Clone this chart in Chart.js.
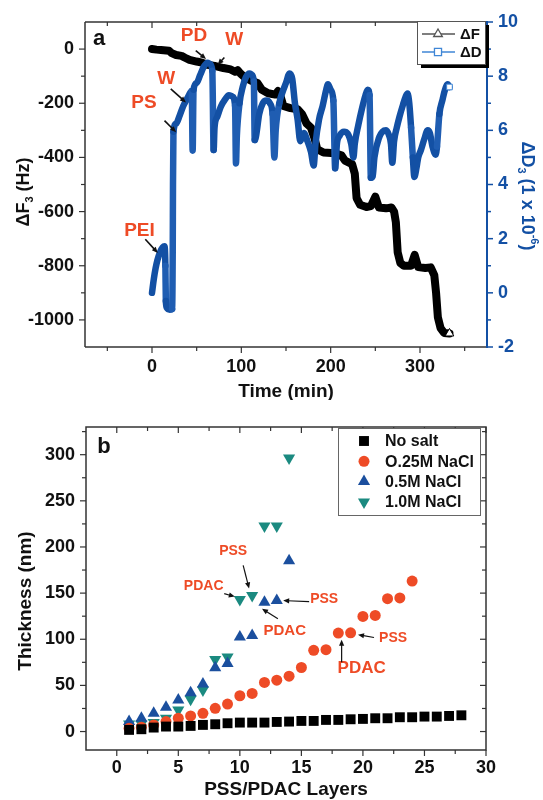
<!DOCTYPE html>
<html>
<head>
<meta charset="utf-8">
<script src="https://cdn.jsdelivr.net/npm/chart.js@4.4.1/dist/chart.umd.min.js"></script>
<style>
html, body { margin: 0; padding: 0; background: #fff; }
#wrap { position: relative; width: 543px; height: 800px; }
canvas { position: absolute; left: 0; }
#qcm { top: 0; }
#thick { top: 400px; }
</style>
</head>
<body>
<div id="wrap">
  <canvas id="qcm" width="543" height="400" style="width:543px;height:400px"></canvas>
  <canvas id="thick" width="543" height="400" style="width:543px;height:400px"></canvas>
</div>
<script>
// ---- panel a: QCM-D trace (time in min) ----
const timeF = [0, 5, 10, 19, 22, 27, 33, 37, 42, 50, 56, 62, 70, 80, 88, 93, 96, 99, 104, 112, 118, 123, 130, 138, 141, 144, 147, 155, 163, 168, 173, 178, 182, 185, 192, 205, 212, 216, 224, 227, 229, 233, 240, 245, 250, 254, 262, 268, 271, 273, 275, 278, 282, 290, 294, 298, 306, 312, 316, 318, 320, 323, 327, 333];
const deltaF = [0, -2, -3, -6, -15, -22, -25, -32, -40, -46, -50, -58, -62, -70, -75, -84, -78, -90, -105, -118, -125, -150, -163, -168, -155, -175, -210, -218, -222, -240, -275, -290, -330, -370, -382, -385, -392, -412, -425, -460, -550, -575, -583, -580, -545, -585, -588, -585, -600, -640, -750, -790, -800, -800, -760, -805, -808, -806, -835, -900, -990, -1030, -1048, -1050];

const timeD = [0, 2, 4, 6, 9, 12, 14, 15, 15.5, 16.5, 20, 22.5, 23.2, 23.5, 24, 27, 31, 35, 39, 43, 44.5, 45.5, 46.5, 50, 54, 58, 62, 65, 67.5, 69, 70, 73, 77, 82, 86, 90, 93, 94, 95, 98, 101.5, 105, 109, 112, 114, 115, 116.5, 120, 124, 128, 132, 135, 137, 138.5, 142.5, 146, 150, 154, 157, 160, 163, 166, 170, 174, 178, 181, 183, 187, 191, 195, 197, 200, 203, 205, 207, 210, 215, 219, 223, 225.5, 227, 231, 235, 239, 241.5, 243.5, 245, 247, 249, 254.5, 258, 262, 265.5, 267.5, 269, 271, 274, 277, 281, 284, 286, 288, 290, 292, 293.7, 296, 298, 301, 305, 308.6, 311, 314, 317.5, 319, 321.7, 325, 328, 331, 333];
const deltaD = [0.0, 0.5, 0.9, 1.2, 1.5, 1.68, 1.72, 1.0, -0.3, -0.55, -0.62, -0.6, 1.5, 4.0, 5.95, 6.25, 6.55, 6.9, 7.15, 7.4, 7.45, 5.25, 7.5, 7.75, 8.05, 8.35, 8.5, 8.45, 8.2, 5.27, 6.1, 6.5, 6.87, 7.15, 7.3, 7.25, 6.9, 4.78, 5.8, 7.0, 7.6, 7.95, 8.1, 8.05, 7.8, 5.64, 5.8, 6.6, 7.0, 7.1, 7.0, 6.6, 5.0, 6.0, 7.0, 7.4, 7.75, 8.1, 7.9, 7.0, 6.4, 5.6, 5.9, 5.6, 5.2, 4.7, 5.5, 6.4, 6.9, 7.5, 7.7, 7.5, 7.1, 4.6, 5.5, 5.8, 5.95, 5.88, 5.5, 5.0, 5.5, 6.2, 6.8, 7.3, 7.5, 7.3, 4.25, 4.3, 5.0, 5.76, 5.95, 6.0, 5.8, 5.5, 4.8, 5.6, 6.1, 6.5, 6.95, 7.25, 7.36, 7.0, 6.1, 5.0, 4.28, 4.6, 5.0, 5.27, 5.7, 6.0, 5.9, 5.4, 5.1, 5.4, 6.6, 7.1, 7.5, 7.7, 7.6];

const timeTicks = [0, 100, 200, 300];
const timeMinor = [-50, 50, 150, 250, 350];
const freqTicks = [-1000, -800, -600, -400, -200, 0];
const freqMinor = [-900, -700, -500, -300, -100];
const dissTicks = [-2, 0, 2, 4, 6, 8, 10];
const dissMinor = [-1, 1, 3, 5, 7, 9];

// ---- panel b: film thickness vs layer number ----
const layers = [1, 2, 3, 4, 5, 6, 7, 8, 9, 10, 11, 12, 13, 14, 15, 16, 17, 18, 19, 20, 21, 22, 23, 24, 25, 26, 27, 28];
const noSalt = [1.8, 2.5, 4.3, 5.4, 5.4, 6.1, 7.2, 7.9, 9.0, 9.7, 9.7, 9.7, 10.4, 10.8, 11.5, 11.5, 12.6, 12.6, 13.3, 13.7, 14.4, 14.4, 15.5, 15.5, 16.2, 16.2, 16.9, 17.6];
const nacl025 = [3.5, 4.7, 7.2, 10.8, 14.4, 16.9, 19.8, 25.2, 29.8, 38.8, 41.3, 53.2, 55.7, 60.0, 69.4, 88.0, 88.7, 106.7, 107.0, 124.7, 125.8, 144.0, 144.8, 163.1];
const nacl05 = [10.8, 14.4, 19.8, 26.2, 34.1, 42.0, 51.4, 69.0, 73.7, 102.4, 104.2, 140.1, 141.9, 185.0];
const nacl10 = [8.3, 8.3, 9.7, 14.4, 23.4, 34.9, 44.9, 78.0, 80.8, 143.0, 147.3, 222.8, 222.8, 296.4];

const layerTicks = [0, 5, 10, 15, 20, 25, 30];
const layerMinor = [2.5, 7.5, 12.5, 17.5, 22.5, 27.5];
const thickTicks = [0, 50, 100, 150, 200, 250, 300];
const thickMinor = [25, 75, 125, 175, 225, 275, 325];

// annotations (data units of each panel)
const notesA = [
    { text: 'PD', x: 47, y: 49 }, { text: 'W', x: 92, y: 34 }, { text: 'W', x: 16, y: -109 },
    { text: 'PS', x: -9, y: -198 }, { text: 'PEI', x: -14, y: -669 },
];
const arrowsA = [[49, -6, 60.5, -37], [81, -31, 73.5, -58], [21, -147, 38, -197], [14, -264, 27, -307], [-7.5, -702, 6.5, -753]];
const notesB = [
    { text: 'PSS', x: 9.46, y: 196, size: 14 }, { text: 'PDAC', x: 7.06, y: 158, size: 14 },
    { text: 'PSS', x: 16.85, y: 144, size: 14 }, { text: 'PDAC', x: 13.65, y: 109, size: 15 },
    { text: 'PSS', x: 22.45, y: 101, size: 14 }, { text: 'PDAC', x: 19.9, y: 68, size: 17 },
];
const arrowsB = [[10.27, 180, 10.75, 155], [8.73, 149.4, 9.59, 146.2], [15.63, 140.8, 13.52, 141.9], [13.09, 122.3, 11.8, 133], [20.9, 101.9, 19.6, 105], [18.27, 75, 18.27, 99.6]];

const FONT = '"Liberation Sans", Arial, Helvetica, sans-serif';
const RED = '#ee4b26';
const BLUE_D = '#1350a4';
const BLUE_M = '#1f5db2';
const BLUE_L = '#3f86d6';
const AXIS = '#333';

const pts = (xs, ys) => xs.slice(0, ys.length).map((x, i) => ({ x, y: ys[i] }));
const font = (size) => ({ family: FONT, size, weight: 'bold' });

function line(ctx, x1, y1, x2, y2) {
    ctx.beginPath(); ctx.moveTo(x1, y1); ctx.lineTo(x2, y2); ctx.stroke();
}

function arrow(ctx, x1, y1, x2, y2) {
    const a = Math.atan2(y2 - y1, x2 - x1), h = 6, w = 2.6;
    line(ctx, x1, y1, x2 - Math.cos(a) * h * 0.7, y2 - Math.sin(a) * h * 0.7);
    ctx.beginPath();
    ctx.moveTo(x2, y2);
    ctx.lineTo(x2 - h * Math.cos(a) + w * Math.sin(a), y2 - h * Math.sin(a) - w * Math.cos(a));
    ctx.lineTo(x2 - h * Math.cos(a) - w * Math.sin(a), y2 - h * Math.sin(a) + w * Math.cos(a));
    ctx.closePath(); ctx.fill();
}

// text with sub/superscripts, centred on (cx, cy), optionally rotated
function richText(ctx, parts, cx, cy, rot, color) {
    ctx.save();
    ctx.translate(cx, cy); ctx.rotate(rot);
    ctx.fillStyle = color; ctx.textBaseline = 'middle'; ctx.textAlign = 'left';
    let total = 0;
    parts.forEach((p) => { ctx.font = `bold ${p.size}px ${FONT}`; p.w = ctx.measureText(p.text).width; total += p.w; });
    let x = -total / 2;
    parts.forEach((p) => { ctx.font = `bold ${p.size}px ${FONT}`; ctx.fillText(p.text, x, p.dy || 0); x += p.w; });
    ctx.restore();
}

function ticks(ctx, chart, id, side, values, len) {
    const a = chart.chartArea, s = chart.scales[id];
    values.forEach((v) => {
        const p = s.getPixelForValue(v);
        if (side === 'left') line(ctx, a.left, p, a.left - len, p);
        if (side === 'right') line(ctx, a.right, p, a.right + len, p);
        if (side === 'bottom') line(ctx, p, a.bottom, p, a.bottom + len);
        if (side === 'top') line(ctx, p, a.top, p, a.top - len);
    });
}

function text(ctx, str, x, y, size, color, align) {
    ctx.font = `bold ${size}px ${FONT}`;
    ctx.fillStyle = color; ctx.textAlign = align || 'center'; ctx.textBaseline = 'middle';
    ctx.fillText(str, x, y);
}

const fixTicks = (list) => (s) => { s.ticks = list.map((v) => ({ value: v })); };

// rinse / injection spikes are drawn a bit lighter, like the open markers in the original
const steep = (c) => {
    const dx = Math.abs(c.p1.x - c.p0.x), dy = Math.abs(c.p1.y - c.p0.y);
    return dy > 25 && dy > dx * 5 ? BLUE_M : undefined;
};

const frameA = {
    id: 'frameA',
    afterDraw(chart) {
        const { ctx, chartArea: a, scales } = chart;
        ctx.save();
        ctx.lineWidth = 1.5; ctx.strokeStyle = AXIS;
        line(ctx, a.left, a.top, a.left, a.bottom);
        line(ctx, a.left, a.top, a.right, a.top);
        line(ctx, a.left, a.bottom, a.right + 1, a.bottom);
        ctx.lineWidth = 1.2;
        ticks(ctx, chart, 'x', 'bottom', timeTicks, 6); ticks(ctx, chart, 'x', 'bottom', timeMinor, 4);
        ticks(ctx, chart, 'x', 'top', timeTicks, -6); ticks(ctx, chart, 'x', 'top', timeMinor, -4);
        ticks(ctx, chart, 'yF', 'left', freqTicks, 6); ticks(ctx, chart, 'yF', 'left', freqMinor, 4);
        ctx.strokeStyle = BLUE_D; ctx.lineWidth = 2;
        line(ctx, a.right, a.top - 1, a.right, a.bottom + 1);
        ctx.lineWidth = 1.5;
        ticks(ctx, chart, 'yD', 'right', dissTicks, 6); ticks(ctx, chart, 'yD', 'right', dissMinor, 4);

        // axis titles
        richText(ctx, [{ text: 'Time (min)', size: 19 }], (a.left + a.right) / 2, a.bottom + 45, 0, '#111');
        richText(ctx, [{ text: '\u0394F', size: 18 }, { text: '3', size: 11, dy: 6 }, { text: ' (Hz)', size: 18 }], 24, a.top + 170, -Math.PI / 2, '#111');
        richText(ctx, [{ text: '\u0394D', size: 18 }, { text: '3', size: 11, dy: 6 }, { text: ' (1 x 10', size: 18 }, { text: '-6', size: 11, dy: -7 }, { text: ')', size: 18 }], 527, a.top + 174, Math.PI / 2, BLUE_D);

        text(ctx, 'a', a.left + 14, a.top + 17, 22, '#111');

        // annotations
        notesA.forEach((n) => text(ctx, n.text, scales.x.getPixelForValue(n.x), scales.yF.getPixelForValue(n.y), 19, RED));
        ctx.fillStyle = '#111'; ctx.strokeStyle = '#111'; ctx.lineWidth = 1.6;
        arrowsA.forEach(([x1, y1, x2, y2]) => arrow(ctx,
            scales.x.getPixelForValue(x1), scales.yF.getPixelForValue(y1),
            scales.x.getPixelForValue(x2), scales.yF.getPixelForValue(y2)));

        // legend with drop shadow
        const bx = a.right - 70, by = a.top - 1, bw = 68, bh = 43;
        ctx.fillStyle = '#000'; ctx.fillRect(bx + 4, by + 4, bw, bh);
        ctx.fillStyle = '#fff'; ctx.fillRect(bx, by, bw, bh);
        ctx.strokeStyle = '#555'; ctx.lineWidth = 1; ctx.strokeRect(bx + 0.5, by + 0.5, bw, bh);
        const rows = [{ label: '\u0394F', color: '#555', style: 'triangle', y: by + 13 }, { label: '\u0394D', color: BLUE_L, style: 'rect', y: by + 31 }];
        rows.forEach((r) => {
            ctx.strokeStyle = r.color; ctx.lineWidth = 1.3;
            line(ctx, bx + 5, r.y, bx + 38, r.y);
            ctx.fillStyle = '#fff';
            Chart.helpers.drawPoint(ctx, { pointStyle: r.style, radius: 5, borderWidth: 1.2, rotation: 0 }, bx + 21, r.y);
            text(ctx, r.label, bx + 43, r.y + 1, 15, '#111', 'left');
        });
        ctx.restore();
    },
};

const frameB = {
    id: 'frameB',
    afterDraw(chart) {
        const { ctx, chartArea: a, scales } = chart;
        ctx.save();
        ctx.lineWidth = 1.5; ctx.strokeStyle = AXIS;
        ctx.strokeRect(a.left, a.top, a.right - a.left, a.bottom - a.top);
        ctx.lineWidth = 1.2;
        ticks(ctx, chart, 'x', 'bottom', layerTicks, 6); ticks(ctx, chart, 'x', 'bottom', layerMinor, 4);
        ticks(ctx, chart, 'x', 'top', layerTicks, -6); ticks(ctx, chart, 'x', 'top', layerMinor, -4);
        ticks(ctx, chart, 'y', 'left', thickTicks, 6); ticks(ctx, chart, 'y', 'left', thickMinor, 4);
        ticks(ctx, chart, 'y', 'right', thickTicks, -6); ticks(ctx, chart, 'y', 'right', thickMinor, -4);

        richText(ctx, [{ text: 'PSS/PDAC Layers', size: 19 }], (a.left + a.right) / 2, a.bottom + 40, 0, '#111');
        richText(ctx, [{ text: 'Thickness (nm)', size: 19 }], 26, a.top + 174, -Math.PI / 2, '#111');
        text(ctx, 'b', a.left + 18, a.top + 20, 22, '#111');

        notesB.forEach((n) => text(ctx, n.text, scales.x.getPixelForValue(n.x), scales.y.getPixelForValue(n.y), n.size, RED));
        ctx.fillStyle = '#111'; ctx.strokeStyle = '#111'; ctx.lineWidth = 1.2;
        arrowsB.forEach(([x1, y1, x2, y2]) => arrow(ctx,
            scales.x.getPixelForValue(x1), scales.y.getPixelForValue(y1),
            scales.x.getPixelForValue(x2), scales.y.getPixelForValue(y2)));

        // legend
        const bx = a.left + 252, by = a.top + 1, bw = 142, bh = 87;
        ctx.fillStyle = '#fff'; ctx.fillRect(bx, by, bw, bh);
        ctx.strokeStyle = '#666'; ctx.lineWidth = 1; ctx.strokeRect(bx + 0.5, by + 0.5, bw, bh);
        chart.data.datasets.forEach((ds, i) => {
            const y = by + 13 + i * 20.3;
            ctx.fillStyle = ds.backgroundColor;
            Chart.helpers.drawPoint(ctx, { pointStyle: ds.pointStyle, radius: ds.pointRadius, rotation: ds.rotation || 0, borderWidth: 0 }, bx + 26, y);
            text(ctx, ds.label, bx + 47, y + 1, 16, '#111', 'left');
        });
        ctx.restore();
    },
};

const lastF = timeF.length - 1;
const lastD = timeD.length - 1;

new Chart(document.getElementById('qcm'), {
    type: 'scatter',
    data: {
        datasets: [
            {
                label: '\u0394D', data: pts(timeD, deltaD), yAxisID: 'yD', showLine: true, order: 0,
                borderColor: BLUE_D, borderWidth: 6.5, borderJoinStyle: 'round', borderCapStyle: 'round',
                cubicInterpolationMode: 'monotone', segment: { borderColor: steep },
                pointStyle: 'rect', pointRadius: (c) => (c.dataIndex === lastD ? 4 : 0),
                pointBackgroundColor: '#fff', pointBorderColor: BLUE_L, pointBorderWidth: 1,
            },
            {
                label: '\u0394F', data: pts(timeF, deltaF), yAxisID: 'yF', showLine: true, order: 1,
                borderColor: '#000', borderWidth: 8, borderJoinStyle: 'round', borderCapStyle: 'round',
                pointStyle: 'triangle', pointRadius: (c) => (c.dataIndex === lastF ? 5 : 0),
                pointBackgroundColor: '#fff', pointBorderColor: '#000', pointBorderWidth: 1,
            },
        ],
    },
    options: {
        responsive: false,
        animation: false,
        events: [],
        layout: { padding: { top: 22, left: 0, right: 0, bottom: 0 } },
        plugins: { legend: { display: false }, tooltip: { enabled: false } },
        scales: {
            x: {
                type: 'linear', position: 'bottom', min: -75, max: 375,
                afterBuildTicks: fixTicks(timeTicks), afterFit: (s) => { s.height = 53; },
                grid: { display: false, drawTicks: false }, border: { display: false },
                ticks: { color: '#111', font: font(18), padding: 9, autoSkip: false, maxRotation: 0, callback: (v) => String(v) },
            },
            yF: {
                type: 'linear', position: 'left', min: -1100, max: 100,
                afterBuildTicks: fixTicks(freqTicks), afterFit: (s) => { s.width = 85; },
                grid: { display: false, drawTicks: false }, border: { display: false },
                ticks: { color: '#111', font: font(18), padding: 11, autoSkip: false, callback: (v) => String(v) },
            },
            yD: {
                type: 'linear', position: 'right', min: -2, max: 10,
                afterBuildTicks: fixTicks(dissTicks), afterFit: (s) => { s.width = 56; },
                grid: { display: false, drawTicks: false }, border: { display: false },
                ticks: { color: BLUE_D, font: font(18), padding: 11, autoSkip: false, callback: (v) => String(v) },
            },
        },
    },
    plugins: [frameA],
});

new Chart(document.getElementById('thick'), {
    type: 'scatter',
    data: {
        datasets: [
            { label: 'No salt', data: pts(layers, noSalt), pointStyle: 'rect', pointRadius: 7, backgroundColor: '#000', borderWidth: 0 },
            { label: 'O.25M NaCl', data: pts(layers, nacl025), pointStyle: 'circle', pointRadius: 5.5, backgroundColor: RED, borderWidth: 0 },
            { label: '0.5M NaCl', data: pts(layers, nacl05), pointStyle: 'triangle', pointRadius: 7, backgroundColor: '#1b4f9e', borderWidth: 0 },
            { label: '1.0M NaCl', data: pts(layers, nacl10), pointStyle: 'triangle', rotation: 180, pointRotation: 180, pointRadius: 7, backgroundColor: '#1b8a80', borderWidth: 0 },
        ],
    },
    options: {
        responsive: false,
        animation: false,
        events: [],
        layout: { padding: { top: 27, left: 0, right: 57, bottom: 0 } },
        plugins: { legend: { display: false }, tooltip: { enabled: false } },
        scales: {
            x: {
                type: 'linear', position: 'bottom', min: -2.5, max: 30,
                afterBuildTicks: fixTicks(layerTicks), afterFit: (s) => { s.height = 50; },
                grid: { display: false, drawTicks: false }, border: { display: false },
                ticks: { color: '#111', font: font(18), padding: 7, autoSkip: false, maxRotation: 0, callback: (v) => String(v) },
            },
            y: {
                type: 'linear', position: 'left', min: -20, max: 330,
                afterBuildTicks: fixTicks(thickTicks), afterFit: (s) => { s.width = 86; },
                grid: { display: false, drawTicks: false }, border: { display: false },
                ticks: { color: '#111', font: font(18), padding: 11, autoSkip: false, callback: (v) => String(v) },
            },
        },
    },
    plugins: [frameB],
});
</script>
</body>
</html>
